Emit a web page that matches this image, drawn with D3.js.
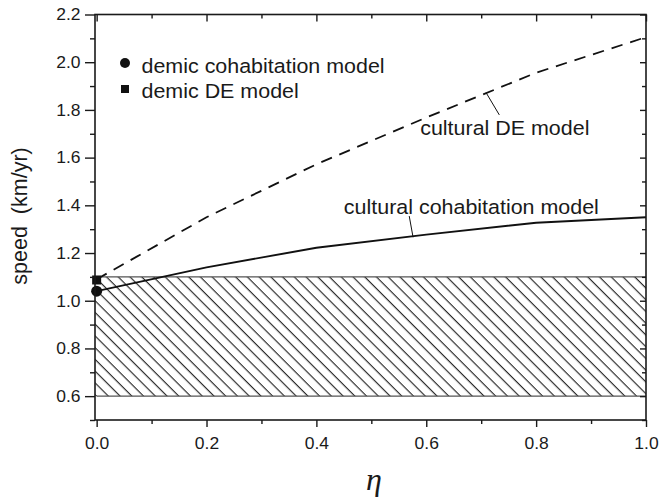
<!DOCTYPE html>
<html>
<head>
<meta charset="utf-8">
<script src="https://cdn.jsdelivr.net/npm/d3@7"></script>
<style>
  body { margin: 0; background: #fff; }
  svg { display: block; }
  text { font-family: "Liberation Sans", Arial, sans-serif; fill: #1a1a1a; }
</style>
</head>
<body>
<div id="chart"></div>
<script>
// eta values and speeds (km/yr)
var eta = [0, 0.2, 0.4, 0.6, 0.8, 1.0];
var culturalCohabitation = [1.04, 1.14, 1.222, 1.277, 1.327, 1.35];
var culturalDE = [1.09, 1.35, 1.572, 1.768, 1.956, 2.105];

var demicCohabitation = [[0, 1.04]];
var demicDE = [[0, 1.087]];

// shaded band of observed speeds
var bandLow = 0.6, bandHigh = 1.1;

var xTicks = [0, 0.2, 0.4, 0.6, 0.8, 1.0];
var xMinor = [0.1, 0.3, 0.5, 0.7, 0.9];
var yTicks = [0.6, 0.8, 1.0, 1.2, 1.4, 1.6, 1.8, 2.0, 2.2];
var yMinor = [0.5, 0.7, 0.9, 1.1, 1.3, 1.5, 1.7, 1.9, 2.1];

var legendLabels = ['demic cohabitation model', 'demic DE model'];

var width = 659, height = 500,
    margin = {left: 95, right: 646, top: 14.5, bottom: 420},
    stretch = 1.1;

var svg = d3.select('#chart').append('svg')
    .attr('width', width)
    .attr('height', height);

var x = d3.scaleLinear().domain([-0.003, 1]).range([margin.left, margin.right]),
    y = d3.scaleLinear().domain([0.5, 2.2]).range([margin.bottom, margin.top]);

// hatch pattern
var pat = svg.append('defs').append('pattern')
    .attr('id', 'hatch')
    .attr('patternUnits', 'userSpaceOnUse')
    .attr('width', 8.3)
    .attr('height', 8.3)
    .attr('patternTransform', 'rotate(-45)');
pat.append('line')
    .attr('x1', 4).attr('y1', -1).attr('x2', 4).attr('y2', 9.3)
    .attr('stroke', '#111')
    .attr('stroke-width', 1.05);

svg.append('rect')
    .attr('x', x(0) - 1.5)
    .attr('y', y(bandHigh))
    .attr('width', x(1) - x(0) + 1.5)
    .attr('height', y(bandLow) - y(bandHigh))
    .attr('fill', 'url(#hatch)');

[bandLow, bandHigh].forEach(function(v) {
    svg.append('line')
        .attr('x1', x(0)).attr('x2', x(1))
        .attr('y1', y(v)).attr('y2', y(v))
        .attr('stroke', '#555')
        .attr('stroke-width', 1.1);
});

// curves
var line = d3.line()
    .x(function(d) { return x(d[0]); })
    .y(function(d) { return y(d[1]); });

svg.append('path')
    .datum(eta.map(function(e, i) { return [e, culturalDE[i]]; }))
    .attr('d', line)
    .attr('fill', 'none')
    .attr('stroke', '#111')
    .attr('stroke-width', 1.8)
    .attr('stroke-dasharray', '11.5,8');

svg.append('path')
    .datum(eta.map(function(e, i) { return [e, culturalCohabitation[i]]; }))
    .attr('d', line)
    .attr('fill', 'none')
    .attr('stroke', '#111')
    .attr('stroke-width', 1.9);

// demic points
svg.selectAll('.sq')
    .data(demicDE)
    .enter().append('rect')
    .attr('class', 'sq')
    .attr('x', function(d) { return x(d[0]) - 4.5; })
    .attr('y', function(d) { return y(d[1]) - 4.5; })
    .attr('width', 9).attr('height', 9)
    .attr('fill', '#111');

svg.selectAll('.dot')
    .data(demicCohabitation)
    .enter().append('circle')
    .attr('class', 'dot')
    .attr('cx', function(d) { return x(d[0]); })
    .attr('cy', function(d) { return y(d[1]); })
    .attr('r', 5.5)
    .attr('fill', '#111');

// axes
function styleAxis(g) {
    g.select('.domain').remove();
    g.selectAll('line').attr('stroke', '#1a1a1a').attr('stroke-width', 1.4);
    g.selectAll('text').style('font-size', '16.5px').attr('fill', '#1a1a1a');
}

svg.append('g')
    .attr('transform', 'translate(0,' + margin.bottom + ')')
    .call(d3.axisBottom(x).tickValues(xTicks).tickSize(7).tickPadding(10).tickFormat(d3.format('.1f')))
    .call(styleAxis)
    .selectAll('text').attr('transform', 'scale(1.06,1)');

svg.append('g')
    .attr('transform', 'translate(0,' + margin.bottom + ')')
    .call(d3.axisBottom(x).tickValues(xMinor).tickSize(4).tickFormat(''))
    .call(styleAxis);

svg.append('g')
    .attr('transform', 'translate(' + margin.left + ',0)')
    .call(d3.axisLeft(y).tickValues(yTicks).tickSize(10).tickFormat(d3.format('.1f')))
    .call(styleAxis)
    .selectAll('text')
    .attr('x', -14.5 / 1.06)
    .attr('transform', 'scale(1.06,1)');

svg.append('g')
    .attr('transform', 'translate(' + margin.left + ',0)')
    .call(d3.axisLeft(y).tickValues(yMinor).tickSize(5).tickFormat(''))
    .call(styleAxis);

svg.append('g')
    .attr('transform', 'translate(0,' + margin.top + ')')
    .call(d3.axisTop(x).tickValues(xTicks).tickSize(-7).tickFormat(''))
    .call(styleAxis);

svg.append('g')
    .attr('transform', 'translate(0,' + margin.top + ')')
    .call(d3.axisTop(x).tickValues(xMinor).tickSize(-4).tickFormat(''))
    .call(styleAxis);

svg.append('g')
    .attr('transform', 'translate(' + margin.right + ',0)')
    .call(d3.axisRight(y).tickValues(yTicks).tickSize(-6).tickFormat(''))
    .call(styleAxis);

svg.append('g')
    .attr('transform', 'translate(' + margin.right + ',0)')
    .call(d3.axisRight(y).tickValues(yMinor).tickSize(-4).tickFormat(''))
    .call(styleAxis);

// frame
svg.append('rect')
    .attr('x', margin.left).attr('y', margin.top)
    .attr('width', margin.right - margin.left).attr('height', margin.bottom - margin.top)
    .attr('fill', 'none')
    .attr('stroke', '#1a1a1a')
    .attr('stroke-width', 1.6);

// legend
var leg = svg.append('g').attr('transform', 'translate(125,63)');
leg.append('circle').attr('r', 5).attr('fill', '#111');
leg.append('rect').attr('x', -4).attr('y', 22).attr('width', 8).attr('height', 8).attr('fill', '#111');
leg.selectAll('text')
    .data(legendLabels)
    .enter().append('text')
    .attr('transform', function(d, i) { return 'translate(16.5,' + (10 + 24.6 * i) + ') scale(' + stretch + ',1)'; })
    .style('font-size', '19.5px')
    .text(function(d) { return d; });

// annotations with leader lines
var notes = [
    {text: 'cultural DE model', tx: 0.589, ty: 1.693, from: [0.709, 1.872], to: [0.733, 1.779]},
    {text: 'cultural cohabitation model', tx: 0.450, ty: 1.362, from: [0.569, 1.355], to: [0.576, 1.266]}
];
notes.forEach(function(n) {
    svg.append('line')
        .attr('x1', x(n.from[0])).attr('y1', y(n.from[1]))
        .attr('x2', x(n.to[0])).attr('y2', y(n.to[1]))
        .attr('stroke', '#111')
        .attr('stroke-width', 1);
    svg.append('text')
        .attr('transform', 'translate(' + x(n.tx) + ',' + y(n.ty) + ') scale(' + stretch + ',1)')
        .style('font-size', '19.5px')
        .text(n.text);
});

// axis titles
svg.append('text')
    .attr('transform', 'translate(27,216) rotate(-90)')
    .attr('text-anchor', 'middle')
    .style('font-size', '21.5px')
    .style('white-space', 'pre')
    .text('speed  (km/yr)');

svg.append('text')
    .attr('x', 374)
    .attr('y', 490)
    .attr('text-anchor', 'middle')
    .style('font-family', '"Liberation Serif", "DejaVu Serif", serif')
    .style('font-style', 'italic')
    .style('font-size', '32px')
    .text('η');
</script>
</body>
</html>
